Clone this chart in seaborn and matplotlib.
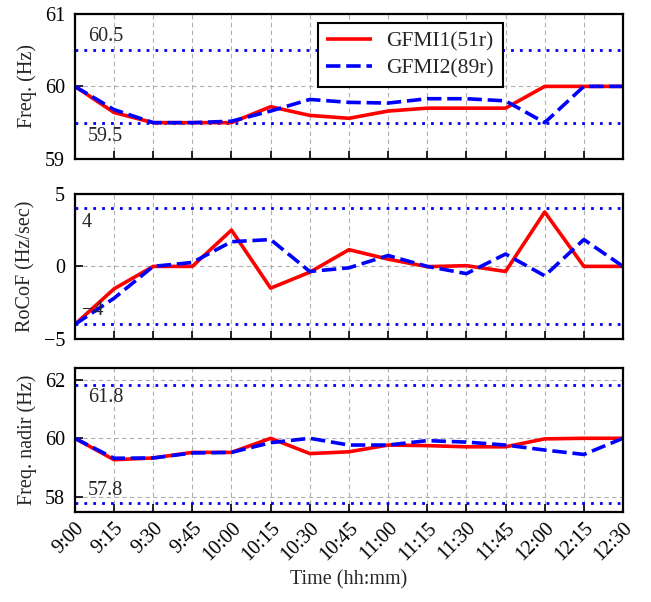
import matplotlib
matplotlib.use("Agg")
import matplotlib.pyplot as plt
import seaborn as sns
import numpy as np
import pandas as pd

times = ["9:00", "9:15", "9:30", "9:45", "10:00", "10:15", "10:30", "10:45",
         "11:00", "11:15", "11:30", "11:45", "12:00", "12:15", "12:30"]

freq_g1 = [60.0, 59.64, 59.5, 59.5, 59.5, 59.72, 59.6, 59.56, 59.66, 59.7, 59.7, 59.7, 60.0, 60.0, 60.0]
freq_g2 = [60.0, 59.68, 59.5, 59.5, 59.52, 59.66, 59.82, 59.78, 59.77, 59.83, 59.83, 59.8, 59.5, 60.0, 60.0]

rocof_g1 = [-4.0, -1.55, 0.0, 0.0, 2.5, -1.5, -0.4, 1.15, 0.5, -0.02, 0.05, -0.35, 3.75, 0.0, 0.0]
rocof_g2 = [-4.0, -2.2, 0.0, 0.27, 1.7, 1.85, -0.35, -0.1, 0.75, 0.0, -0.5, 0.85, -0.65, 1.85, 0.0]

nadir_g1 = [60.0, 59.27, 59.33, 59.52, 59.52, 60.0, 59.48, 59.54, 59.77, 59.75, 59.71, 59.71, 59.98, 60.0, 60.0]
nadir_g2 = [60.0, 59.32, 59.33, 59.5, 59.52, 59.85, 60.0, 59.77, 59.77, 59.92, 59.87, 59.77, 59.6, 59.45, 60.0]

series_names = ["GFMI1(51r)", "GFMI2(89r)"]

freq_limits = [59.5, 60.5]
rocof_limits = [-4, 4]
nadir_limits = [57.8, 61.8]

sns.set_style("ticks")
plt.rcParams['font.family'] = ['Liberation Serif', 'DejaVu Serif']
plt.rcParams['font.size'] = 14.5

FS = 14.5

fig = plt.figure(figsize=(6.51, 6.02), dpi=100)
left, width = 0.115, 0.842
ax1 = fig.add_axes([left, 0.736, width, 0.241])
ax2 = fig.add_axes([left, 0.437, width, 0.241])
ax3 = fig.add_axes([left, 0.150, width, 0.239])
axes = [ax1, ax2, ax3]

x = np.arange(len(times))

def make_df(a, b):
    return pd.DataFrame({
        "x": np.concatenate([x, x]),
        "y": np.concatenate([a, b]),
        "series": [series_names[0]] * len(x) + [series_names[1]] * len(x),
    })

data = [(freq_g1, freq_g2), (rocof_g1, rocof_g2), (nadir_g1, nadir_g2)]
limits = [freq_limits, rocof_limits, nadir_limits]
ylims = [(59, 61), (-5, 5), (57.5, 62.4)]
yticks = [[59, 60, 61], [-5, 0, 5], [58, 60, 62]]
ylabels = ["Freq. (Hz)", "RoCoF (Hz/sec)", "Freq. nadir (Hz)"]

for i, ax in enumerate(axes):
    a, b = data[i]
    df = make_df(a, b)
    sns.lineplot(data=df, x="x", y="y", hue="series", style="series",
                 palette=["#ff0000", "#0000ff"],
                 dashes=[(1, 0), (4, 1.6)],
                 linewidth=2.6, ax=ax, legend=(i == 0))
    lo, hi = limits[i]
    for v in (lo, hi):
        ax.axhline(v, color="#0000ff", linestyle=(0, (1, 2.2)), linewidth=2.0, zorder=1)
    ax.set_xlim(0, len(times) - 1)
    ax.set_ylim(*ylims[i])
    ax.set_yticks(yticks[i])
    ax.set_xticks(x)
    ax.grid(True, color="#b0b0b0", linestyle=(0, (4, 3)), linewidth=0.8)
    ax.set_axisbelow(True)
    ax.tick_params(direction="in", length=6, width=1.2, labelsize=FS, colors="black")
    ax.tick_params(axis="y", pad=7)
    for s in ax.spines.values():
        s.set_linewidth(1.6)
        s.set_color("black")
    ax.set_ylabel(ylabels[i], fontsize=FS, labelpad=6)
    ax.set_xlabel("")
    if i < 2:
        ax.set_xticklabels([])

ax1.text(0.33, 60.5 + 0.06, "60.5", fontsize=FS, va="bottom", ha="left")
ax1.text(0.33, 59.5 - 0.06, "59.5", fontsize=FS, va="top", ha="left")
ax2.text(0.18, 4 - 0.3, "4", fontsize=FS, va="top", ha="left")
ax2.text(0.18, -4 + 0.3, "\u22124", fontsize=FS, va="bottom", ha="left")
ax3.text(0.33, 61.8 - 0.1, "61.8", fontsize=FS, va="top", ha="left")
ax3.text(0.33, 57.8 + 0.1, "57.8", fontsize=FS, va="bottom", ha="left")

ax3.set_xticklabels(times, rotation=45, ha="right", rotation_mode="anchor", fontsize=FS)
ax3.tick_params(axis="x", pad=5)
ax3.set_xlabel("Time (hh:mm)", fontsize=FS)

handles, labels = ax1.get_legend_handles_labels()
ax1.legend(handles, labels, loc="upper left", bbox_to_anchor=(0.443, 0.935),
           frameon=True, fancybox=False, edgecolor="black", framealpha=1,
           fontsize=15.5, handlelength=2.1, borderpad=0.4, labelspacing=0.3,
           handletextpad=0.7, borderaxespad=0.0)
ax1.get_legend().get_frame().set_linewidth(1.5)

fig.savefig("out.png", dpi=100)
